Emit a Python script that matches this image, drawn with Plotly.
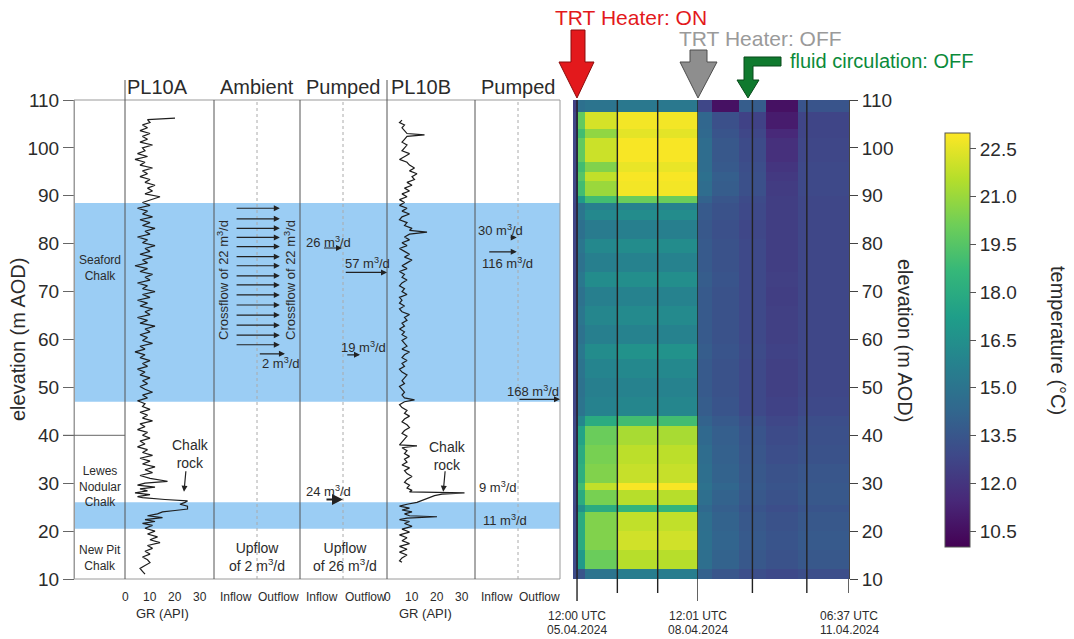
import plotly.graph_objects as go

W, H = 1074, 639
FONT = "Liberation Sans, Arial, sans-serif"
INK = "#2b2b2b"

# ---------------- temperature section (°C) ----------------
band_edges = [10, 12, 16, 20, 24, 25.5, 28.5, 30, 34, 38, 42, 44, 48, 52, 56, 59, 63, 67,
              71, 74, 78, 81, 85, 87, 88.5, 90, 93, 95, 97, 102, 104, 107.5, 110]
heat_hours = [-2.4, 0.5, 5, 24, 72]
recov_hours = [72, 78, 90, 102, 116, 138.6]

t_pre = [13.0, 12.9, 12.9, 12.9, 12.8, 12.9, 12.9, 12.9, 12.9, 12.9, 12.8, 12.7, 12.7, 12.7,
         12.7, 12.7, 12.7, 12.7, 12.7, 12.7, 12.7, 12.7, 12.7, 12.7, 12.8, 12.8, 12.8, 12.8,
         12.8, 12.8, 12.7, 12.4]
t_ramp = [13.5, 17.0, 18.0, 18.0, 16.5, 18.0, 19.0, 18.2, 18.0, 17.5, 16.0, 15.0, 14.9, 15.0,
          15.2, 14.9, 15.1, 14.9, 15.2, 14.9, 15.1, 14.8, 15.1, 14.9, 17.0, 19.0, 19.5, 19.0,
          19.8, 19.0, 19.8, 14.8]
t_day1 = [15.0, 20.0, 20.5, 20.5, 18.0, 20.3, 21.8, 20.5, 20.3, 20.0, 18.0, 15.8, 15.6, 15.9,
          16.3, 15.6, 16.0, 15.6, 16.3, 15.6, 16.1, 15.4, 16.1, 15.6, 19.0, 21.0, 21.8, 20.5,
          22.0, 20.8, 22.2, 15.0]
t_day23 = [15.5, 21.6, 22.1, 21.8, 18.5, 21.6, 22.9, 21.9, 21.7, 21.3, 19.0, 16.0, 15.8, 16.1,
           16.6, 15.8, 16.2, 15.8, 16.4, 15.8, 16.3, 15.6, 16.3, 15.8, 20.0, 22.8, 22.9, 22.6,
           22.9, 22.5, 22.8, 15.2]

t_rec1 = [14.0, 14.7, 14.8, 14.7, 14.4, 14.7, 14.9, 14.7, 14.6, 14.4, 14.1, 13.8, 13.7, 13.7,
          13.8, 13.7, 13.7, 13.7, 13.8, 13.7, 13.7, 13.6, 13.7, 13.7, 14.1, 14.6, 14.8, 14.6,
          14.6, 14.4, 14.3, 12.8]
t_rec2 = [13.5, 14.1, 14.2, 14.1, 13.9, 14.1, 14.3, 14.1, 14.0, 13.9, 13.7, 13.4, 13.3, 13.3,
          13.4, 13.3, 13.3, 13.3, 13.4, 13.3, 13.3, 13.2, 13.3, 13.3, 13.5, 13.8, 13.9, 13.7,
          13.6, 13.4, 13.2, 10.6]
t_rec3 = [13.1, 13.6, 13.7, 13.6, 13.4, 13.6, 13.7, 13.6, 13.5, 13.4, 13.2, 12.9, 12.9, 12.9,
          13.0, 12.9, 12.9, 12.9, 12.9, 12.9, 12.9, 12.8, 12.9, 12.9, 13.0, 13.2, 13.2, 13.1,
          13.0, 12.8, 12.6, 13.8]
t_rec4 = [12.9, 13.3, 13.4, 13.3, 13.1, 13.3, 13.4, 13.3, 13.1, 13.0, 12.8, 12.6, 12.5, 12.5,
          12.6, 12.5, 12.5, 12.4, 12.5, 12.4, 12.4, 12.4, 12.4, 12.4, 12.4, 12.3, 12.2, 12.0,
          11.8, 11.5, 11.0, 10.6]
t_rec5 = [13.1, 13.6, 13.7, 13.6, 13.4, 13.6, 13.6, 13.5, 13.3, 13.2, 13.1, 12.9, 12.8, 12.8,
          12.8, 12.8, 12.8, 12.8, 12.8, 12.8, 12.8, 12.8, 12.8, 12.8, 12.8, 12.9, 12.9, 12.9,
          12.8, 12.7, 12.7, 13.4]

# ---------------- gamma-ray logs (API) ----------------
pl10a_elev = [106.2, 106.0, 105.9, 105.3, 104.8, 104.2, 103.6, 103.0, 102.4, 101.8, 101.2, 100.6,
              100.0, 99.4, 98.8, 98.2, 97.6, 97.0, 96.4, 95.8, 95.2, 94.6, 94.0, 93.4, 92.8, 92.2,
              91.6, 91.0, 90.4, 89.8, 89.2, 88.6, 88.0, 87.4, 86.8, 86.2, 85.6, 85.0, 84.4, 83.8,
              83.2, 82.6, 82.0, 81.4, 80.8, 80.2, 79.6, 79.0, 78.4, 77.8, 77.2, 76.6, 76.0, 75.4,
              74.8, 74.2, 73.6, 73.0, 72.4, 71.8, 71.2, 70.6, 70.0, 69.4, 68.8, 68.2, 67.6, 67.0,
              66.4, 65.8, 65.2, 64.6, 64.0, 63.4, 62.8, 62.2, 61.6, 61.0, 60.4, 59.8, 59.2, 58.6,
              58.0, 57.4, 56.8, 56.2, 55.6, 55.0, 54.4, 53.8, 53.2, 52.6, 52.0, 51.4, 50.8, 50.2,
              49.6, 49.0, 48.4, 47.8, 47.2, 46.6, 46.0, 45.4, 44.8, 44.2, 43.6, 43.0, 42.4, 41.8,
              41.2, 40.6, 40.0, 39.4, 38.8, 38.2, 37.6, 37.0, 36.4, 35.8, 35.2, 34.6, 34.0, 33.4,
              32.8, 32.2, 31.6, 31.0, 30.4, 30.0, 29.6, 29.2, 28.8, 28.4, 28.0, 27.6, 27.2, 27.0,
              26.6, 26.3, 26.0, 25.6, 25.2, 24.6, 24.3, 24.0, 23.6, 23.2, 22.8, 22.4, 22.0, 21.6,
              21.2, 20.6, 20.0, 19.4, 18.8, 18.2, 17.6, 17.0, 16.4, 15.8, 15.2, 14.6, 14.0, 13.4,
              12.8, 12.2, 11.6, 11.0]
pl10a_gr = [20, 12, 9, 10, 7, 9, 6, 10, 7, 9, 6, 11,
            7, 8, 5, 9, 4, 8, 6, 11, 7, 9, 6, 10, 8, 12,
            9, 11, 8, 14, 10, 7, 10, 5, 9, 7, 11, 6, 10, 7,
            12, 8, 10, 5, 9, 7, 12, 8, 10, 6, 11, 7, 9, 4,
            9, 6, 11, 8, 10, 5, 9, 7, 12, 7, 10, 5, 9, 6,
            11, 8, 10, 5, 9, 6, 12, 8, 10, 6, 9, 7, 11, 6,
            8, 4, 8, 6, 10, 7, 9, 5, 8, 6, 10, 7, 9, 6,
            8, 11, 7, 9, 5, 8, 7, 10, 6, 9, 7, 11, 6, 8,
            5, 9, 7, 10, 6, 8, 5, 9, 7, 11, 6, 10, 7, 12,
            8, 11, 6, 10, 17, 8, 5, 12, 6, 9, 4, 10, 5, 7,
            16, 25, 24, 22, 25, 25, 20, 15, 13, 9, 15, 8, 12, 7,
            11, 8, 12, 9, 13, 10, 14, 9, 11, 8, 10, 7, 9, 10,
            8, 6, 7, 8]

pl10b_elev = [105.8, 105.3, 104.8, 104.2, 103.6, 103.0, 102.7, 102.4, 101.8, 101.2, 100.6, 100.0,
              99.4, 98.8, 98.2, 97.6, 97.0, 96.4, 95.8, 95.2, 94.6, 94.0, 93.4, 92.8, 92.2, 91.6,
              91.0, 90.4, 89.8, 89.2, 88.6, 88.0, 87.4, 86.8, 86.2, 85.6, 85.0, 84.4, 83.8, 83.2,
              82.8, 82.4, 82.0, 81.4, 80.8, 80.2, 79.6, 79.0, 78.4, 77.8, 77.2, 76.6, 76.0, 75.4,
              74.8, 74.2, 73.6, 73.0, 72.4, 71.8, 71.2, 70.6, 70.0, 69.4, 68.8, 68.2, 67.6, 67.0,
              66.4, 65.8, 65.2, 64.6, 64.0, 63.4, 62.8, 62.2, 61.6, 61.0, 60.4, 59.8, 59.2, 58.6,
              58.0, 57.4, 56.8, 56.2, 55.6, 55.0, 54.4, 53.8, 53.2, 52.6, 52.0, 51.4, 50.8, 50.2,
              49.6, 49.0, 48.4, 47.8, 47.4, 47.0, 46.4, 45.8, 45.2, 44.6, 44.0, 43.4, 42.8, 42.2,
              41.6, 41.0, 40.4, 39.8, 39.2, 38.6, 38.0, 37.8, 37.4, 36.8, 36.2, 35.6, 35.0, 34.4,
              33.8, 33.2, 32.6, 32.0, 31.4, 30.8, 30.2, 29.6, 29.0, 28.5, 28.2, 28.0, 27.7, 27.4,
              27.0, 26.5, 26.0, 25.6, 25.2, 24.8, 24.4, 24.0, 23.6, 23.2, 23.0, 22.7, 22.4, 22.0,
              21.6, 21.0, 20.4, 19.8, 19.2, 18.6, 18.0, 17.4, 16.8, 16.2, 15.6, 15.0, 14.4, 13.8,
              13.5]
pl10b_gr = [6, 5, 7, 6, 7, 8, 15, 8, 7, 6, 8, 7,
            6, 9, 7, 5, 8, 9, 11, 9, 12, 10, 11, 8, 10, 7,
            9, 6, 8, 5, 7, 5, 8, 6, 9, 6, 5, 8, 7, 10,
            9, 16, 9, 7, 9, 6, 8, 5, 7, 9, 7, 10, 8, 6,
            8, 5, 7, 6, 8, 6, 5, 7, 6, 8, 5, 6, 5, 7,
            5, 6, 9, 7, 8, 6, 7, 5, 7, 6, 8, 6, 7, 8,
            6, 9, 7, 6, 8, 6, 7, 5, 6, 8, 7, 6, 7, 5,
            6, 7, 6, 7, 11, 7, 5, 6, 8, 7, 9, 7, 6, 8,
            9, 7, 6, 8, 7, 6, 5, 12, 6, 8, 7, 9, 7, 8,
            6, 9, 7, 8, 10, 8, 7, 9, 8, 10, 9, 31, 22, 19,
            17, 15, 12, 8, 5, 9, 6, 10, 7, 9, 20, 8, 5, 9,
            7, 10, 6, 9, 5, 8, 6, 9, 5, 8, 5, 8, 6, 5,
            6]

# ---------------- flow-log arrows ----------------
crossflow_elev = [87.4, 85.2, 83.2, 81.3, 79.4, 77.3, 75.4, 73.3, 71.4, 69.3, 67.2, 65.1, 63.0, 60.9, 58.9]
pumped_a_elev = [79.1, 74.0, 56.8, 26.6]
pumped_a_flow = [26, 57, 19, 24]
pumped_a_head = [56, 116, 80, 57.3]
pumped_b_elev = [81.3, 78.3, 47.5, 27.5, 20.9]
pumped_b_flow = [30, 116, 168, 9, 11]
pumped_b_head = [167, 167, 340, 167, 167]

layer_bands = [(47, 88.5), (20.5, 26)]
elev_ticks = list(range(10, 111, 10))
gr_ticks = [0, 10, 20, 30]
cbar_ticks = [10.5, 12.0, 13.5, 15.0, 16.5, 18.0, 19.5, 21.0, 22.5]


def fx(px):
    return px / W


def fy(py):
    return 1 - py / H


Y_DOM = [fy(579), fy(100)]

fig = go.Figure()

fig.add_trace(go.Heatmap(
    x=heat_hours, y=band_edges,
    z=[list(r) for r in zip(t_pre, t_ramp, t_day1, t_day23)],
    coloraxis="coloraxis", xaxis="x", yaxis="y", hoverinfo="skip"))
fig.add_trace(go.Heatmap(
    x=recov_hours, y=band_edges,
    z=[list(r) for r in zip(t_rec1, t_rec2, t_rec3, t_rec4, t_rec5)],
    coloraxis="coloraxis", xaxis="x2", yaxis="y", hoverinfo="skip"))

fig.add_trace(go.Scatter(x=pl10a_gr, y=pl10a_elev, mode="lines", xaxis="x4", yaxis="y2",
                         line=dict(color="#1e1e1e", width=1.2), showlegend=False, hoverinfo="skip"))
fig.add_trace(go.Scatter(x=pl10b_gr, y=pl10b_elev, mode="lines", xaxis="x7", yaxis="y2",
                         line=dict(color="#1e1e1e", width=1.2), showlegend=False, hoverinfo="skip"))
for ax in ["x3", "x5", "x6", "x8"]:
    fig.add_trace(go.Scatter(x=[None], y=[None], xaxis=ax, yaxis="y2", showlegend=False,
                             hoverinfo="skip"))

hidden = dict(visible=False, showgrid=False, zeroline=False)
fig.update_layout(
    width=W, height=H, autosize=False,
    margin=dict(l=0, r=0, t=0, b=0, autoexpand=False),
    paper_bgcolor="white", plot_bgcolor="rgba(0,0,0,0)",
    font=dict(family=FONT, color=INK),
    showlegend=False,
    xaxis=dict(domain=[fx(573), fx(698)], range=[-2.4, 72], anchor="y", **hidden),
    xaxis2=dict(domain=[fx(698), fx(849)], range=[72, 138.6], anchor="y", **hidden),
    yaxis=dict(domain=Y_DOM, range=[10, 110], anchor="x2", side="right",
               tickvals=elev_ticks, ticks="outside", ticklen=8, tickcolor="#444",
               showline=True, linecolor="#444", linewidth=1,
               tickfont=dict(size=19, color=INK), showgrid=False, zeroline=False),
    yaxis2=dict(domain=Y_DOM, range=[10, 110], anchor="free", position=fx(74), side="left",
                tickvals=elev_ticks, ticks="outside", ticklen=11, tickcolor="#666",
                showline=True, linecolor="#9a9a9a", linewidth=1,
                tickfont=dict(size=19, color=INK), showgrid=False, zeroline=False),
    xaxis3=dict(domain=[fx(74), fx(125)], range=[0, 1], anchor="y2", **hidden),
    xaxis4=dict(domain=[fx(125), fx(214)], range=[0, 35.6], anchor="y2", **hidden),
    xaxis5=dict(domain=[fx(214), fx(300)], range=[0, 2], anchor="y2", **hidden),
    xaxis6=dict(domain=[fx(300), fx(387)], range=[0, 116], anchor="y2", **hidden),
    xaxis7=dict(domain=[fx(387), fx(475)], range=[0, 35.2], anchor="y2", **hidden),
    xaxis8=dict(domain=[fx(475), fx(560)], range=[0, 340], anchor="y2", **hidden),
    coloraxis=dict(
        colorscale="Viridis", cmin=10, cmax=23,
        colorbar=dict(x=fx(945), xanchor="left", y=fy(340), yanchor="middle",
                      len=414 / H, lenmode="fraction", thickness=25, xpad=0, ypad=0,
                      outlinecolor="#555", outlinewidth=1,
                      tickvals=cbar_ticks, tickformat=".1f", ticks="outside", ticklen=6,
                      tickcolor="#555", tickfont=dict(size=19, color=INK)),
    ),
)

shapes = []
# hydro-stratigraphic bands behind the logs
for lo, hi in layer_bands:
    shapes.append(dict(type="rect", xref="paper", yref="y2", x0=fx(74), x1=fx(560), y0=lo, y1=hi,
                       fillcolor="#9bcdf4", line=dict(width=0), layer="below"))
# panel frame
shapes.append(dict(type="rect", xref="paper", yref="paper", x0=fx(74), x1=fx(560),
                   y0=fy(579), y1=fy(100), line=dict(color="#9a9a9a", width=1)))
# track dividers
for px, top in [(125, 80), (214, 100), (300, 100), (387, 80), (475, 100)]:
    shapes.append(dict(type="line", xref="paper", yref="paper", x0=fx(px), x1=fx(px),
                       y0=fy(579), y1=fy(top), line=dict(color="#555", width=1)))
# inflow / outflow centre lines
for px in [257, 343, 518]:
    shapes.append(dict(type="line", xref="paper", yref="paper", x0=fx(px), x1=fx(px),
                       y0=fy(579), y1=fy(100), line=dict(color="#aaa", width=1, dash="dot")))
# formation boundary in the lithology track
shapes.append(dict(type="line", xref="paper", yref="y2", x0=fx(63), x1=fx(125), y0=40, y1=40,
                   line=dict(color="#666", width=1)))

# day markers across the temperature section
for hx, ax, bottom in [(0, "x", 601), (24, "x", 593), (48, "x", 593), (72, "x", 601),
                       (96, "x2", 593), (120, "x2", 593), (138.6, "x2", 593)]:
    shapes.append(dict(type="line", xref=ax, yref="paper", x0=hx, x1=hx,
                       y0=fy(bottom), y1=fy(100) if hx < 138 else fy(579),
                       line=dict(color="#222", width=1.4)))


def block(points, fill, edge):
    d = "M " + " L ".join(f"{fx(x):.5f},{fy(y):.5f}" for x, y in points) + " Z"
    return dict(type="path", xref="paper", yref="paper", path=d, fillcolor=fill,
                line=dict(color=edge, width=1))


shapes.append(block([(571, 30), (585, 30), (585, 62), (594, 62), (577, 98), (559, 62), (571, 62)],
                    "#e3191c", "#8a0c0c"))
shapes.append(block([(690, 50), (707, 50), (707, 62), (717, 62), (698, 98), (680, 62), (690, 62)],
                    "#8e8e8e", "#4d4d4d"))
shapes.append(block([(744, 57), (781, 57), (781, 66), (753, 66), (753, 80), (759, 80), (748, 98),
                     (737, 80), (744, 80)], "#0f7a2e", "#084a1b"))
fig.update_layout(shapes=shapes)

ann = []


def txt(text, px, py, size=13, color=INK, xanchor="center", **kw):
    ann.append(dict(text=text, x=fx(px), y=fy(py), xref="paper", yref="paper", showarrow=False,
                    xanchor=xanchor, yanchor="middle", font=dict(size=size, color=color, family=FONT),
                    **kw))


# headers
for label, px in [("PL10A", 157), ("Ambient", 257), ("Pumped", 343), ("PL10B", 421), ("Pumped", 518)]:
    txt(label, px, 87, size=20)
# bottom labels
for ax in ["x4", "x7"]:
    for v in gr_ticks:
        ann.append(dict(text=str(v), x=v, y=fy(597), xref=ax, yref="paper", showarrow=False,
                        yanchor="middle", font=dict(size=12, color=INK)))
for ax, vin, vout in [("x5", 0.5, 1.5), ("x6", 29, 87), ("x8", 88, 256)]:
    for v, t in [(vin, "Inflow"), (vout, "Outflow")]:
        ann.append(dict(text=t, x=v, y=fy(597), xref=ax, yref="paper", showarrow=False,
                        yanchor="middle", font=dict(size=12, color=INK)))
txt("GR (API)", 162, 613, size=13)
txt("GR (API)", 425, 613, size=13)

# axis titles
txt("elevation (m AOD)", 18, 340, size=20, textangle=-90)
txt("elevation (m AOD)", 905, 340, size=20, textangle=90)
txt("temperature (°C)", 1058, 340, size=20, textangle=90)

# lithology
txt("Seaford<br>Chalk", 100, 268, size=12)
txt("Lewes<br>Nodular<br>Chalk", 100, 486, size=12)
txt("New Pit<br>Chalk", 100, 558, size=12)

# chalk rock pointers
ann.append(dict(text="", x=23.6, y=28.2, xref="x4", yref="y2", ax=2, ay=-22, showarrow=True,
                arrowhead=2, arrowsize=1, arrowwidth=1.2, arrowcolor="#222"))
txt("Chalk<br>rock", 190, 454, size=14)
ann.append(dict(text="", x=22.5, y=28.2, xref="x7", yref="y2", ax=2, ay=-22, showarrow=True,
                arrowhead=2, arrowsize=1, arrowwidth=1.2, arrowcolor="#222"))
txt("Chalk<br>rock", 447, 456, size=14)


def flow_arrow(axis, head, tail, elev, width=1.2):
    ann.append(dict(text="", x=head, y=elev, ax=tail, ay=elev, xref=axis, yref="y2",
                    axref=axis, ayref="y2", showarrow=True, arrowhead=2, arrowsize=1,
                    arrowwidth=width, arrowcolor="#222", standoff=0))


# ambient crossflow
for e in crossflow_elev:
    flow_arrow("x5", 1.53, 0.49, e)
flow_arrow("x5", 1.65, 1.03, 57.0)
txt("2 m<sup>3</sup>/d", 260, 363, size=13, xanchor="left")
txt("Crossflow of 22 m<sup>3</sup>/d", 223, 280, size=13, textangle=-90)
txt("Crossflow of 22 m<sup>3</sup>/d", 290, 280, size=13, textangle=-90)
txt("Upflow<br>of 2 m<sup>3</sup>/d", 257, 557, size=14)

# pumped, PL10A
for e, q, h in zip(pumped_a_elev, pumped_a_flow, pumped_a_head):
    flow_arrow("x6", h, h - q, e, width=2.2 if q == 24 else 1.2)
txt("26 m<sup>3</sup>/d", 304, 242, xanchor="left")
txt("57 m<sup>3</sup>/d", 343, 263, xanchor="left")
txt("19 m<sup>3</sup>/d", 339, 347, xanchor="left")
txt("24 m<sup>3</sup>/d", 304, 491, xanchor="left")
txt("Upflow<br>of 26 m<sup>3</sup>/d", 345, 557, size=14)

# pumped, PL10B
for e, q, h in zip(pumped_b_elev, pumped_b_flow, pumped_b_head):
    flow_arrow("x8", h, h - q, e)
txt("30 m<sup>3</sup>/d", 476, 230, xanchor="left")
txt("116 m<sup>3</sup>/d", 480, 263, xanchor="left")
txt("168 m<sup>3</sup>/d", 505, 391, xanchor="left")
txt("9 m<sup>3</sup>/d", 477, 487, xanchor="left")
txt("11 m<sup>3</sup>/d", 481, 520, xanchor="left")

# event labels
txt("TRT Heater: ON", 631, 18, size=21, color="#e3191c")
txt("TRT Heater: OFF", 760, 39, size=21, color="#9a9a9a")
txt("fluid circulation: OFF", 881, 61, size=20, color="#0b8a3a")

# time labels
for hx, ax, l1, l2 in [(0, "x", "12:00 UTC", "05.04.2024"), (72, "x", "12:01 UTC", "08.04.2024"),
                       (138.6, "x2", "06:37 UTC", "11.04.2024")]:
    ann.append(dict(text=l1, x=hx, y=fy(616), xref=ax, yref="paper", showarrow=False,
                    yanchor="middle", font=dict(size=12, color=INK)))
    ann.append(dict(text=l2, x=hx, y=fy(630), xref=ax, yref="paper", showarrow=False,
                    yanchor="middle", font=dict(size=12, color=INK)))

fig.update_layout(annotations=ann)
fig.write_html("out.html")
